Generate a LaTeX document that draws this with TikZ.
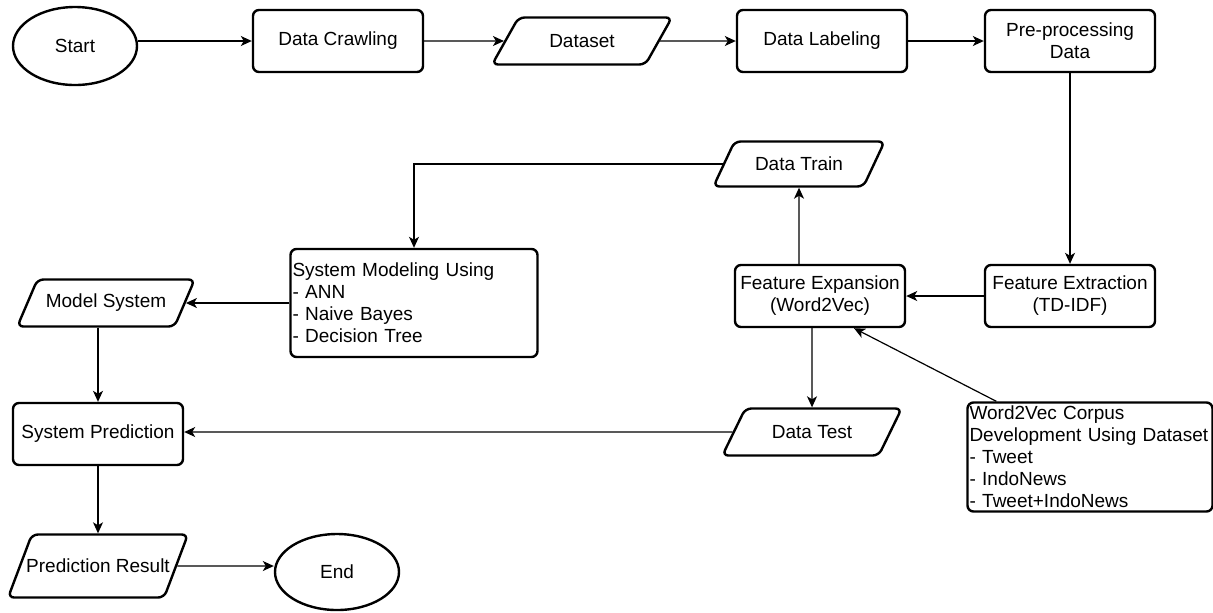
\documentclass[tikz,border=0pt]{standalone}
\usepackage{fontspec}
\setmainfont{Liberation Sans}
\usetikzlibrary{shapes.geometric,arrows.meta}

\begin{document}
\begin{tikzpicture}[x=0.5pt,y=-0.5pt,
font=\fontsize{9.5}{11}\selectfont,
box/.style={draw,line width=1.2pt,rounded corners=3pt,minimum width=85pt,minimum height=31pt,align=center,inner sep=1pt},
terminal/.style={draw,line width=1.2pt,ellipse,minimum width=62pt,minimum height=39pt},
io/.style={draw,line width=1.2pt,rounded corners=3pt,trapezium,trapezium left angle=50,trapezium right angle=130,trapezium stretches=true,minimum width=90pt,minimum height=23.5pt,inner sep=1pt},
listbox/.style={box,align=left,inner xsep=1pt},
arr/.style={-{Stealth[length=5.5pt,width=5pt,inset=1.5pt]},line width=0.6pt}]
\useasboundingbox (0,0) rectangle (1213,612);
\node[terminal] (start) at (75,46) {Start};
\node[box] (crawl) at (338,41) {Data Crawling};
\node[io] (dataset) at (582,41) {Dataset};
\node[box] (label) at (822,41) {Data Labeling};
\node[box] (pre) at (1070,41) {Pre-processing\\Data};
\node[box] (fext) at (1070,296) {Feature Extraction\\(TD-IDF)};
\node[box] (fexp) at (820,296) {Feature Expansion\\(Word2Vec)};
\node[io,minimum width=86pt,minimum height=22.5pt] (dtrain) at (799,164) {Data Train};
\node[listbox,text width=121.5pt,minimum height=54pt] (smod) at (414,303) {System Modeling Using\\- ANN\\- Naive Bayes\\- Decision Tree};
\node[io,minimum width=89pt] (msys) at (106,303) {Model System};
\node[box] (spred) at (98,434) {System Prediction};
\node[io] (dtest) at (812,432) {Data Test};
\node[listbox,text width=120.5pt,inner ysep=0pt,minimum height=54.5pt] (w2v) at (1090,457) {Word2Vec Corpus\\Development Using Dataset\\- Tweet\\- IndoNews\\- Tweet+IndoNews};
\node[io,minimum height=31.5pt] (pres) at (98,566) {\makebox[40pt]{Prediction Result}};
\node[terminal,minimum height=38pt] (end) at (337,572) {End};
\draw[arr] (crawl -| start.east) -- (crawl);
\draw[arr] (crawl) -- (dataset);
\draw[arr] (dataset) -- (label);
\draw[arr] (label) -- (pre);
\draw[arr] (pre) -- (fext);
\draw[arr] (fext) -- (fexp);
\draw[arr] (fexp.north -| dtrain) -- (dtrain);
\draw[arr] (dtrain) -| (smod);
\draw[arr] (fexp.south -| dtest) -- (dtest);
\draw[arr] ([xshift=15pt]w2v.north west) -- ([xshift=17pt]fexp.south);
\draw[arr] (smod) -- (smod -| msys.east);
\draw[arr] (msys.south -| spred) -- (spred);
\draw[arr] (dtest) -- (dtest -| spred.east);
\draw[arr] (spred) -- (pres);
\draw[arr] (pres) -- (pres -| end.west);
\end{tikzpicture}
\end{document}
